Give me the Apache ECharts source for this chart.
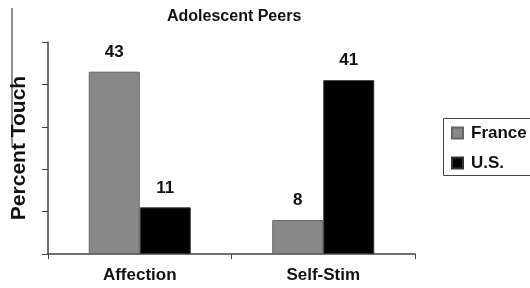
<!DOCTYPE html>
<html>
<head>
<meta charset="utf-8">
<script src="https://cdn.jsdelivr.net/npm/echarts@6/dist/echarts.min.js"></script>
<style>
  html, body { margin: 0; padding: 0; background: #fff; }
  #chart { width: 530px; height: 288px; }
</style>
</head>
<body>
<div id="chart"></div>
<script>
const categories = ['Affection', 'Self-Stim']
const france = [43, 8]
const us = [11, 41]

const FONT = 'Liberation Sans, Arial, sans-serif'

const chart = echarts.init(document.getElementById('chart'))

const labelStyle = {
  show: true,
  position: 'top',
  distance: 11,
  color: '#111',
  fontFamily: FONT,
  fontWeight: 'bold',
  fontSize: 17,
}

chart.setOption({
  backgroundColor: '#fff',
  animation: false,
  title: {
    text: 'Adolescent Peers',
    left: 162,
    top: 4,
    textStyle: {
      color: '#111',
      fontFamily: FONT,
      fontWeight: 'bold',
      fontSize: 16,
    },
  },
  legend: {
    data: ['France', 'U.S.'],
    orient: 'vertical',
    left: 443,
    top: 118,
    padding: [5, 10, 2, 8],
    itemGap: 10,
    itemWidth: 11,
    itemHeight: 11,
    icon: 'rect',
    textStyle: {
      color: '#111',
      fontFamily: FONT,
      fontWeight: 'bold',
      fontSize: 17,
      lineHeight: 20,
      padding: [0, 0, 0, 3],
    },
  },
  grid: {
    left: 48,
    right: 115,
    top: 42,
    bottom: 34,
  },
  xAxis: {
    type: 'category',
    data: categories,
    axisLine: { lineStyle: { color: '#444', width: 1.5 } },
    axisTick: { show: true, length: 5, lineStyle: { color: '#444' } },
    axisLabel: {
      color: '#111',
      margin: 13,
      fontFamily: FONT,
      fontWeight: 'bold',
      fontSize: 17,
    },
  },
  yAxis: {
    type: 'value',
    min: 0,
    max: 50,
    interval: 10,
    name: 'Percent Touch',
    nameLocation: 'middle',
    nameGap: 18,
    nameTextStyle: {
      color: '#111',
      fontFamily: FONT,
      fontWeight: 'bold',
      fontSize: 21,
    },
    axisLine: { show: true, lineStyle: { color: '#444', width: 1.5 } },
    axisTick: { show: true, length: 6, lineStyle: { color: '#444' } },
    axisLabel: { show: false },
    splitLine: { show: false },
  },
  graphic: [
    {
      type: 'line',
      shape: { x1: 12, y1: 8, x2: 12, y2: 145 },
      style: { stroke: '#222', lineWidth: 1 },
    },
    // legend frame runs past the right edge in the original
    {
      type: 'rect',
      shape: { x: 443.5, y: 118.5, width: 120, height: 57 },
      style: { fill: 'none', stroke: '#444', lineWidth: 1 },
      z: -1,
    },
  ],
  series: [
    {
      name: 'France',
      type: 'bar',
      data: france,
      barWidth: 51,
      barGap: '0%',
      itemStyle: { color: '#888', borderColor: '#666', borderWidth: 1 },
      label: labelStyle,
    },
    {
      name: 'U.S.',
      type: 'bar',
      data: us,
      barWidth: 51,
      itemStyle: { color: '#000', borderColor: '#333', borderWidth: 1 },
      label: labelStyle,
    },
  ],
})
</script>
</body>
</html>
